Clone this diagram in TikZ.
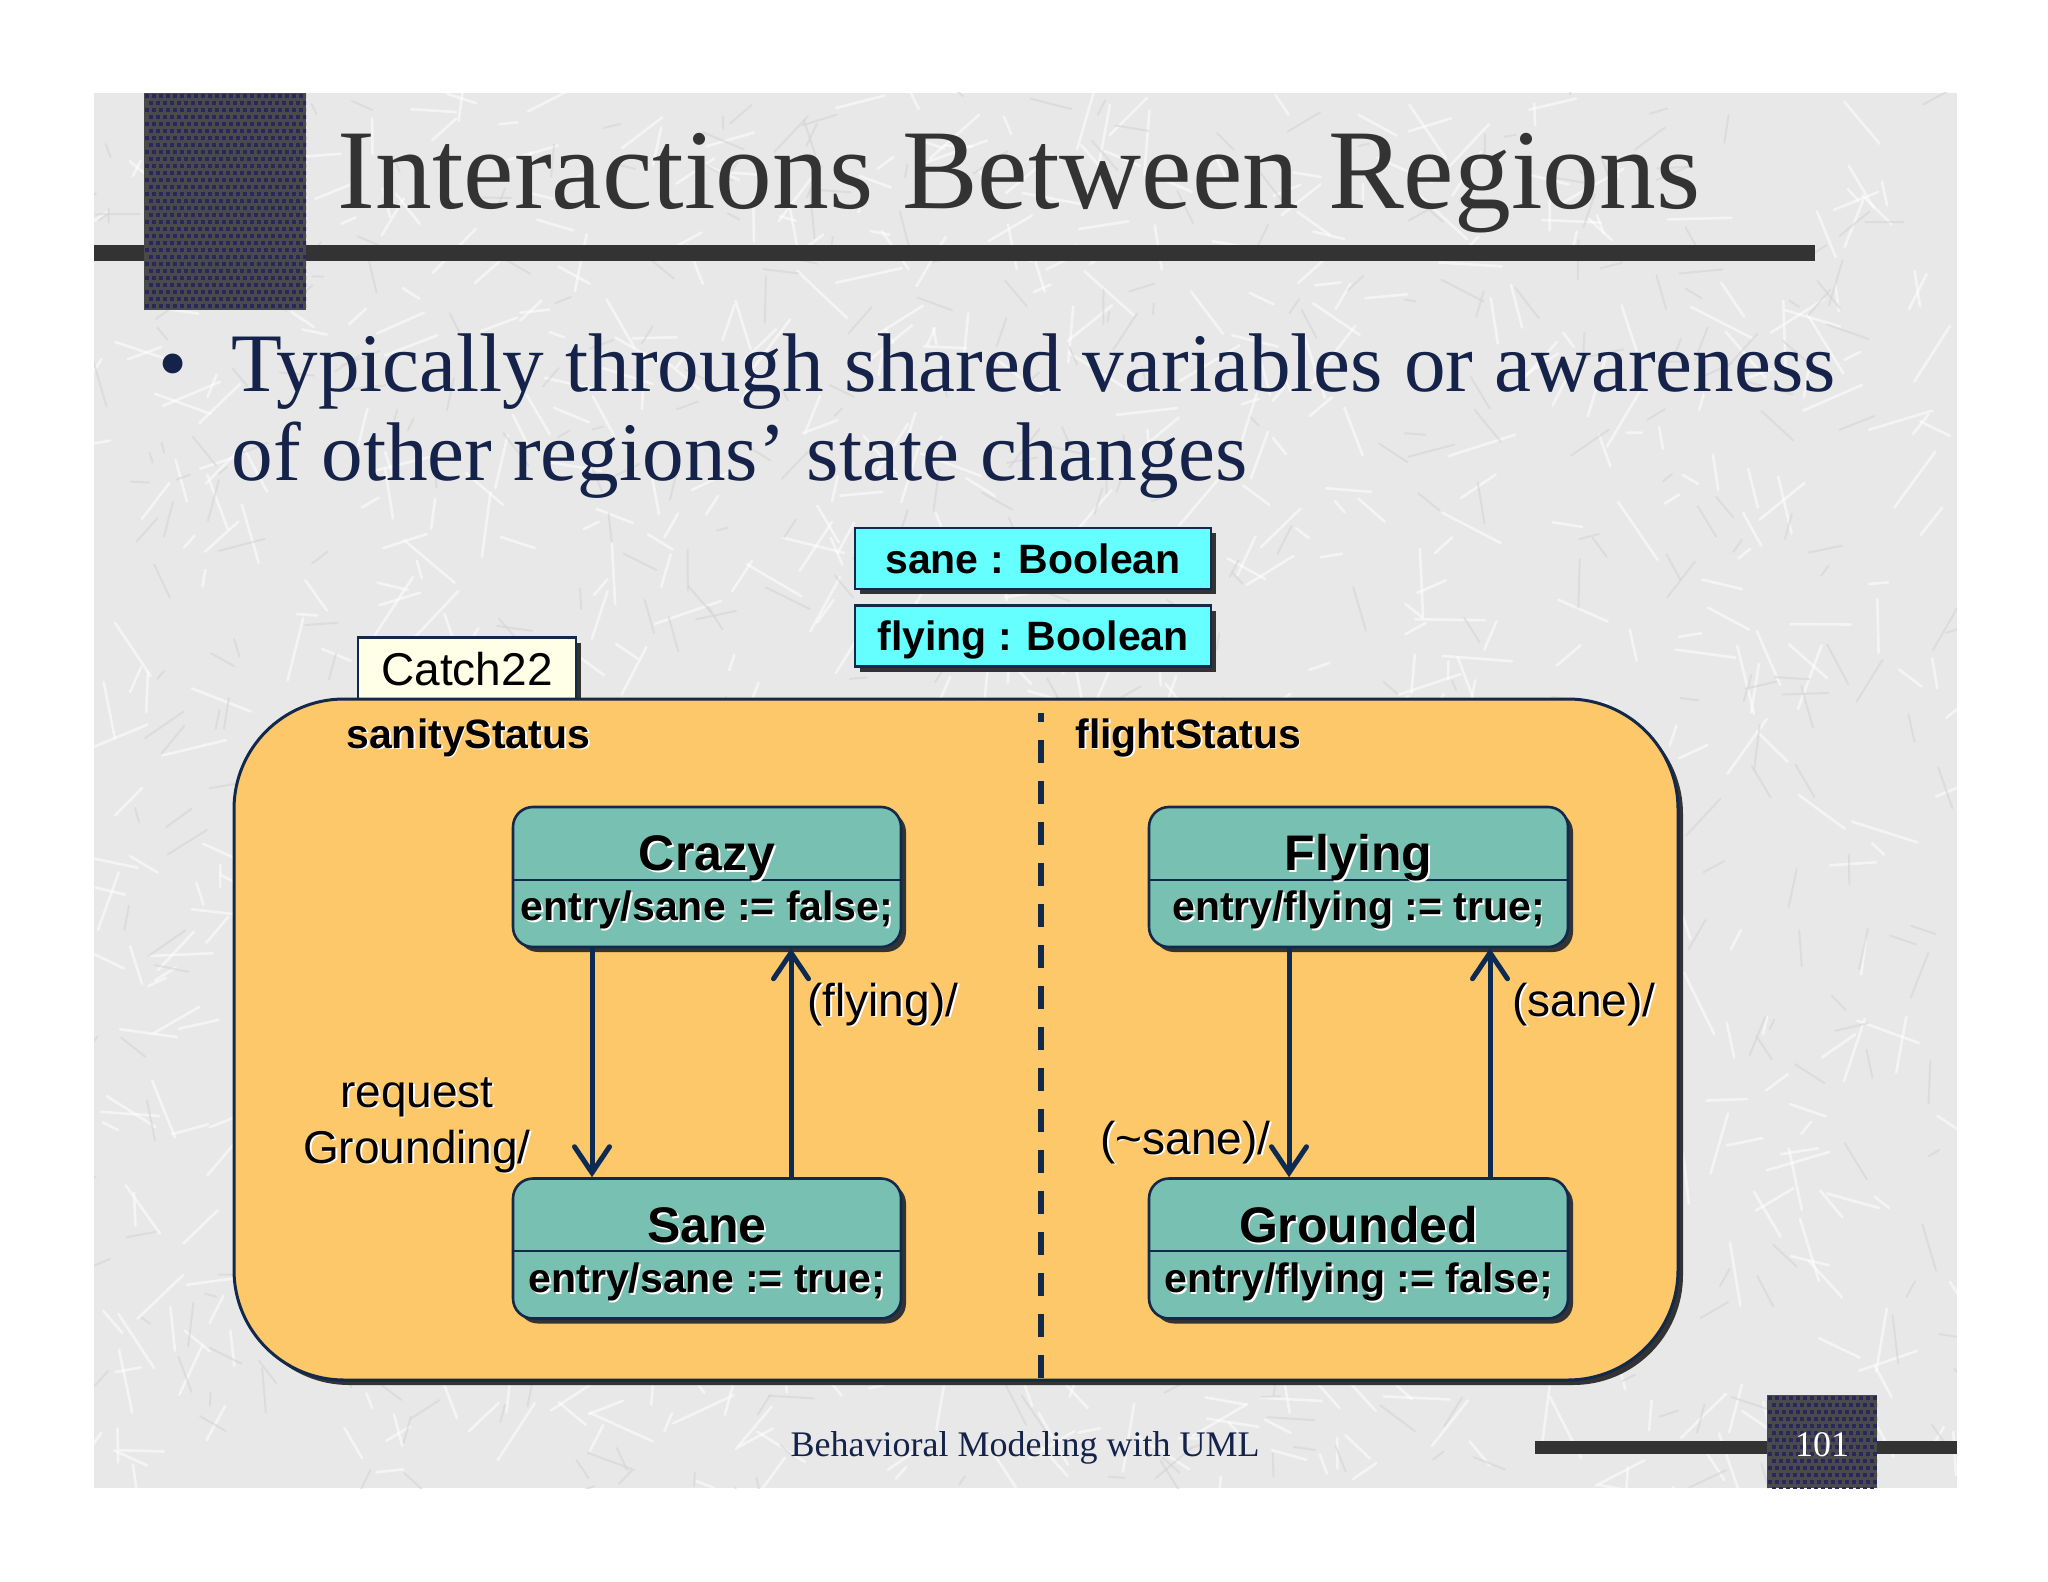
\documentclass[tikz,border=0pt]{standalone}
\usepackage{fontspec}
\setmainfont{Liberation Serif}
\newfontfamily\arialf{Liberation Sans}
\usetikzlibrary{arrows.meta,shadows,calc}
\definecolor{slidebg}{HTML}{E8E8E8}
\definecolor{scratchdark}{HTML}{D5D5D5}
\definecolor{darksq}{HTML}{4A4A4C}
\definecolor{dotc}{HTML}{28285C}
\definecolor{barc}{HTML}{333333}
\definecolor{titlec}{HTML}{333333}
\definecolor{navytext}{HTML}{15234A}
\definecolor{navy}{HTML}{13294B}
\definecolor{arrowc}{HTML}{0C2A52}
\definecolor{orangef}{HTML}{FDC86A}
\definecolor{tealf}{HTML}{78C0B2}
\definecolor{cyanf}{HTML}{66FFFF}
\definecolor{tabf}{HTML}{FFFFE8}
\newcommand{\emb}[1]{{\leavevmode\rlap{\kern0.9pt\raisebox{-0.9pt}{\color{white}#1}}#1}}
\tikzset{
  shad/.style={drop shadow={shadow xshift=2.5pt,shadow yshift=-2.5pt,fill=black!80,opacity=1}},
  stbox/.style={draw=navy,line width=1.3pt,fill=tealf,rounded corners=10pt,
    minimum height=70pt,inner sep=0pt,shad},
  varbox/.style={draw=navy,line width=1.3pt,fill=cyanf,minimum width=178pt,minimum height=30.5pt,
    inner sep=0pt,font=\arialf\bfseries\fontsize{20.5pt}{24pt}\selectfont,text height=14.8pt,text depth=0pt,shad},
  stname/.style={anchor=base,font=\arialf\bfseries\fontsize{25pt}{30pt}\selectfont,inner sep=0pt},
  stentry/.style={anchor=base,font=\arialf\bfseries\fontsize{20.5pt}{24pt}\selectfont,inner sep=0pt},
  regname/.style={anchor=base west,font=\arialf\bfseries\fontsize{20.5pt}{24pt}\selectfont,inner sep=0pt},
  trlabel/.style={font=\arialf\fontsize{23pt}{28pt}\selectfont,inner sep=0pt},
  trans/.style={draw=arrowc,line width=2.5pt,-{Straight Barb[length=13pt,width=17.5pt,line width=2.5pt,line cap=round]}},
  divline/.style={draw=navy,line width=1pt},
}
\begin{document}
\begin{tikzpicture}[x=0.5pt,y=-0.5pt]
\useasboundingbox (0,0) rectangle (2048,1582);
\fill[white] (0,0) rectangle (2048,1582);
\fill[slidebg] (94,93) rectangle (1957,1488);
% texture
\begin{scope}
\clip (94,93) rectangle (1957,1488);
\pgfmathsetseed{7}
\foreach \i in {1,...,900}{
  \pgfmathsetmacro\xa{94+1863*rnd}
  \pgfmathsetmacro\ya{93+1395*rnd}
  \pgfmathsetmacro\an{360*rnd}
  \pgfmathsetmacro\le{15+55*rnd}
  \draw[white,line width=1.3pt,opacity=0.55,line cap=round] (\xa,\ya) -- ++(\an:\le);
}
\foreach \i in {1,...,600}{
  \pgfmathsetmacro\xa{94+1863*rnd}
  \pgfmathsetmacro\ya{93+1395*rnd}
  \pgfmathsetmacro\an{360*rnd}
  \pgfmathsetmacro\le{10+40*rnd}
  \draw[scratchdark,line width=1pt,opacity=0.6,line cap=round] (\xa,\ya) -- ++(\an:\le);
}
\end{scope}
% header
\fill[barc] (94,245) rectangle (1815,261);
\fill[darksq] (144,93) rectangle (306,310);
\begin{scope}
\clip (144,93) rectangle (306,310);
\foreach \i in {0,...,23}{\foreach \j in {0,...,31}{
  \pgfmathsetmacro\ox{mod(\j,2)*3.5}
  \fill[dotc] (145+7*\i+\ox,94+7*\j) rectangle ++(4,4);}}
\end{scope}
\node[anchor=base west,inner sep=0pt,text=titlec,font=\fontsize{56.8pt}{60pt}\selectfont] (title) at (337,209) {Interactions Between Regions};
% bullet
\node[anchor=base west,inner sep=0pt,text=navytext,font=\fontsize{41.6pt}{44.5pt}\selectfont] (bul) at (158,392) {•};
\node[anchor=base west,inner sep=0pt,text=navytext,font=\fontsize{41.6pt}{44.5pt}\selectfont] (line1) at (231,392) {Typically through shared variables or awareness};
\node[anchor=base west,inner sep=0pt,text=navytext,font=\fontsize{41.6pt}{44.5pt}\selectfont] (line2) at (231,481) {of other regions’ state changes};
% variables
\node[varbox] (vsane) at (1033,558.5) {sane : Boolean};
\node[varbox] (vfly) at (1033,636) {flying : Boolean};
% tab and container
\node[draw=navy,line width=1.3pt,fill=tabf,minimum width=109pt,minimum height=31.5pt,inner sep=0pt,shad,
  font=\arialf\fontsize{23pt}{28pt}\selectfont] (tab) at (467,669) {Catch22};
\node[draw=navy,line width=1.5pt,fill=orangef,rounded corners=55pt,minimum width=722pt,minimum height=340.5pt,shad] (catch) at (956,1039.5) {};
\coordinate (dtop) at (1041,713);
\coordinate (dbot) at (1041,1378);
\draw[navy,line width=2.6pt,dash pattern=on 11.7pt off 8.8pt,dash phase=7pt] (dtop) -- (dbot);
\node[regname] (rsan) at (346,748) {\emb{sanityStatus}};
\node[regname] (rfly) at (1075,748) {\emb{flightStatus}};
% states
\node[stbox,minimum width=194pt] (crazy) at (707,877) {};
\node[stbox,minimum width=194pt] (sane) at (707,1248.5) {};
\node[stbox,minimum width=209.5pt] (flying) at (1358.5,877) {};
\node[stbox,minimum width=209.5pt] (grounded) at (1358.5,1248.5) {};
\foreach \s/\n/\e in {crazy/Crazy/entry\slash sane := false;, sane/Sane/entry\slash sane := true;, flying/Flying/entry\slash flying := true;, grounded/Grounded/entry\slash flying := false;}{
  \draw[divline] ($(\s.north west)+(0,74)$) -- ($(\s.north east)+(0,74)$);
  \node[stname] (\s-name) at ($(\s.north)+(0,65)$) {\emb{\n}};
  \node[stentry] (\s-entry) at ($(\s.north)+(0,115)$) {\emb{\e}};
}
% transitions
\draw[trans] ($(crazy.south)+(-115,0)$) -- ($(sane.north)+(-115,0)$);
\draw[trans] ($(sane.north)+(84,0)$) -- ($(crazy.south)+(84,0)$);
\draw[trans] ($(flying.south)+(-69.5,0)$) -- ($(grounded.north)+(-69.5,0)$);
\draw[trans] ($(grounded.north)+(131.5,0)$) -- ($(flying.south)+(131.5,0)$);
\node[trlabel,anchor=base west] (lfly) at (807,1016) {\emb{(flying)/}};
\node[trlabel,anchor=base] (lreq1) at (417,1107) {\emb{request}};
\node[trlabel,anchor=base] (lreq2) at (417,1163) {\emb{Grounding/}};
\node[trlabel,anchor=base west] (lnsane) at (1100,1154) {\emb{(\textasciitilde sane)/}};
\node[trlabel,anchor=base west] (lsane) at (1512,1016) {\emb{(sane)/}};
% footer
\node[anchor=base,inner sep=0pt,text=navytext,font=\fontsize{18pt}{20pt}\selectfont] (foot) at (1025,1456) {Behavioral Modeling with UML};
\fill[barc] (1535,1441) rectangle (1957,1454);
\fill[darksq] (1767,1395) rectangle (1877,1488);
\begin{scope}
\clip (1767,1395) rectangle (1877,1488);
\foreach \i in {0,...,16}{\foreach \j in {0,...,14}{
  \pgfmathsetmacro\ox{mod(\j,2)*3.5}
  \fill[dotc] (1768+7*\i+\ox,1396+7*\j) rectangle ++(4,4);}}
\end{scope}
\node[anchor=base,inner sep=0pt,text=white,font=\fontsize{18pt}{20pt}\selectfont] (pnum) at (1822,1456) {101};
\end{tikzpicture}
\end{document}
